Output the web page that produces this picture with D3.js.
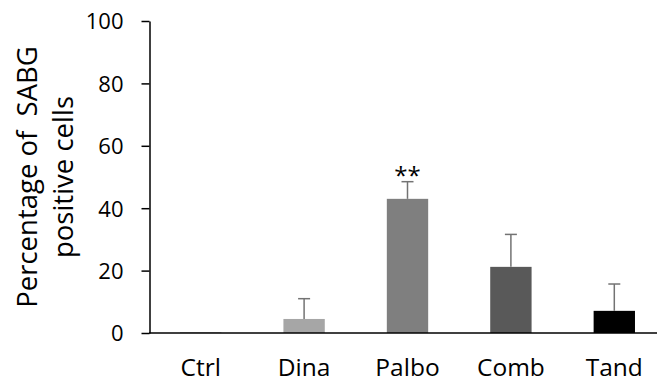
<!DOCTYPE html>
<html>
<head>
<meta charset="utf-8">
<script src="https://cdn.jsdelivr.net/npm/d3@7"></script>
<style>
    body { margin: 0; background: #fff; }
    svg { display: block; font-family: 'Open Sans', sans-serif; }
</style>
</head>
<body>
<div class="chart-container"></div>
<script>
// data
const groups = ['Ctrl', 'Dina', 'Palbo', 'Comb', 'Tand'];
const means = [0.3, 4.5, 43.0, 21.2, 7.1];
const errors = [0, 6.5, 5.5, 10.4, 8.6];
const barColors = ['#bfbfbf', '#a6a6a6', '#7f7f7f', '#595959', '#000000'];
const marks = ['', '', '**', '', ''];
const yTicks = [0, 20, 40, 60, 80, 100];

const rows = groups.map((g, i) => ({
    group: g,
    mean: means[i],
    err: errors[i],
    color: barColors[i],
    mark: marks[i]
}));

const width = 657;
const height = 383;

const svg = d3.select('.chart-container')
    .append('svg')
    .attr('width', width)
    .attr('height', height);

// scales
const xScale = d3.scaleBand()
    .domain(groups)
    .range([149, 666])
    .paddingInner(0.6)
    .paddingOuter(0.3);

const yScale = d3.scaleLinear()
    .domain([0, 100])
    .range([333, 21]);

// bars
svg.append('g')
    .attr('class', 'bars')
    .selectAll('rect')
    .data(rows)
    .enter()
    .append('rect')
        .attr('x', d => xScale(d.group))
        .attr('y', d => yScale(d.mean))
        .attr('width', xScale.bandwidth())
        .attr('height', d => yScale(0) - yScale(d.mean))
        .attr('fill', d => d.color);

// error bars (upper only)
const errG = svg.append('g')
    .attr('class', 'errors')
    .selectAll('g')
    .data(rows.filter(d => d.err > 0))
    .enter()
    .append('g')
    .attr('stroke', '#737373')
    .attr('stroke-width', 1.5);

errG.append('line')
    .attr('x1', d => xScale(d.group) + xScale.bandwidth() / 2)
    .attr('x2', d => xScale(d.group) + xScale.bandwidth() / 2)
    .attr('y1', d => yScale(d.mean))
    .attr('y2', d => yScale(d.mean + d.err));

errG.append('line')
    .attr('x1', d => xScale(d.group) + xScale.bandwidth() / 2 - 6)
    .attr('x2', d => xScale(d.group) + xScale.bandwidth() / 2 + 6)
    .attr('y1', d => yScale(d.mean + d.err))
    .attr('y2', d => yScale(d.mean + d.err));

// significance stars
svg.append('g')
    .selectAll('text')
    .data(rows.filter(d => d.mark))
    .enter()
    .append('text')
        .attr('x', d => xScale(d.group) + xScale.bandwidth() / 2)
        .attr('y', d => yScale(d.mean + d.err) + 2)
        .attr('text-anchor', 'middle')
        .attr('font-size', 24)
        .attr('fill', '#000')
        .text(d => d.mark);

// y axis
const yAxis = d3.axisLeft(yScale)
    .tickValues(yTicks)
    .tickSizeInner(8)
    .tickSizeOuter(0)
    .tickPadding(18);

const yAxisDraw = svg.append('g')
    .attr('transform', 'translate(149.5, 0)')
    .call(yAxis);

yAxisDraw.select('.domain').attr('stroke-width', 1.5);
yAxisDraw.selectAll('.tick line').attr('stroke-width', 1.5);
yAxisDraw.selectAll('.tick text')
    .attr('font-size', 22)
    .attr('font-family', "'Open Sans', sans-serif")
    .attr('dy', '0.36em')
    .attr('fill', '#000');

// x axis line and labels
svg.append('line')
    .attr('x1', 149)
    .attr('x2', width)
    .attr('y1', yScale(0))
    .attr('y2', yScale(0))
    .attr('stroke', '#000')
    .attr('stroke-width', 1.5);

svg.append('g')
    .selectAll('text')
    .data(groups)
    .enter()
    .append('text')
        .attr('x', d => xScale(d) + xScale.bandwidth() / 2)
        .attr('y', 376)
        .attr('text-anchor', 'middle')
        .attr('font-size', 24.5)
        .attr('fill', '#000')
        .text(d => d);

// y axis title
const title = svg.append('text')
    .attr('transform', 'translate(0, 177) rotate(-90)')
    .attr('text-anchor', 'middle')
    .attr('font-size', 27.5)
    .attr('fill', '#000')
    .attr('xml:space', 'preserve')
    .style('white-space', 'pre');

title.append('tspan')
    .attr('x', 0)
    .attr('y', 37)
    .text('Percentage of  SABG');

title.append('tspan')
    .attr('x', 0)
    .attr('y', 73)
    .text('positive cells');
</script>
</body>
</html>
